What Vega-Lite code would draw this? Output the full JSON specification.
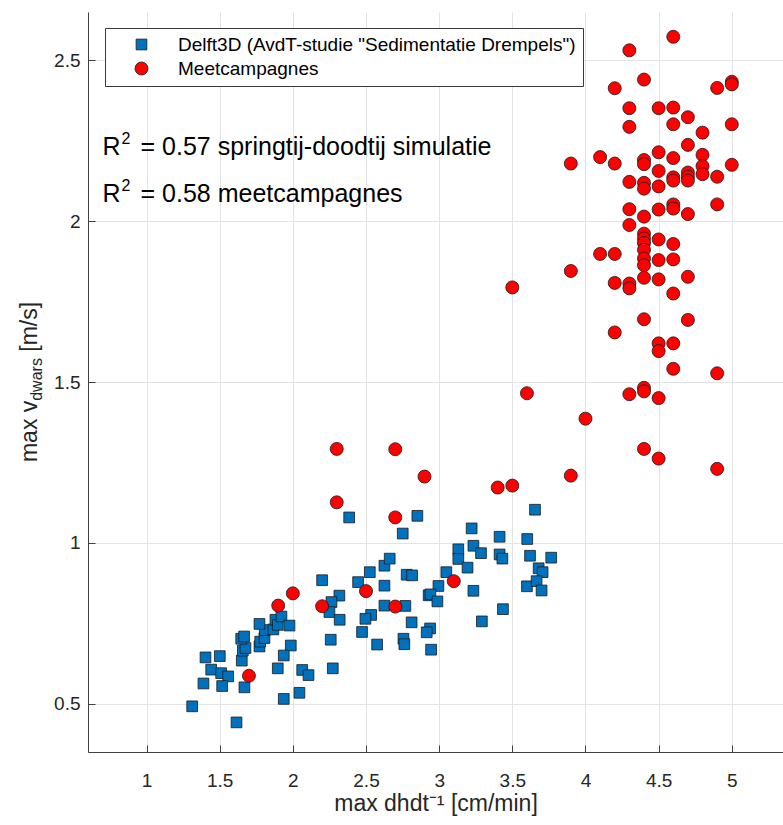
{
  "$schema": "https://vega.github.io/schema/vega-lite/v6.json",
  "autosize": {"type": "none"},
  "padding": {"left": 88, "top": 12, "right": 0, "bottom": 73},
  "width": 695,
  "height": 740,
  "background": "white",
  "config": {
    "view": {"stroke": null},
    "font": "Liberation Sans",
    "axis": {
      "grid": true,
      "gridColor": "#e3e3e3",
      "gridWidth": 1,
      "domainColor": "#404040",
      "domainWidth": 1,
      "tickColor": "#404040",
      "tickSize": -7,
      "tickWidth": 1,
      "labelFont": "Liberation Sans",
      "labelFontSize": 19,
      "labelColor": "#262626",
      "titleFont": "Liberation Sans",
      "titleFontSize": 23,
      "titleFontWeight": "normal",
      "titleColor": "#262626"
    },
    "legend": {
      "labelFont": "Liberation Sans",
      "labelFontSize": 19,
      "labelColor": "#000000",
      "labelLimit": 0
    },
    "text": {"font": "Liberation Sans", "color": "#000000"}
  },
  "datasets": {
    "punten": [
      {"dhdt": 2.385, "v": 1.079, "bron": "Delft3D (AvdT-studie \"Sedimentatie Drempels\")"},
      {"dhdt": 1.312, "v": 0.492, "bron": "Delft3D (AvdT-studie \"Sedimentatie Drempels\")"},
      {"dhdt": 1.615, "v": 0.442, "bron": "Delft3D (AvdT-studie \"Sedimentatie Drempels\")"},
      {"dhdt": 1.403, "v": 0.644, "bron": "Delft3D (AvdT-studie \"Sedimentatie Drempels\")"},
      {"dhdt": 1.501, "v": 0.648, "bron": "Delft3D (AvdT-studie \"Sedimentatie Drempels\")"},
      {"dhdt": 1.442, "v": 0.606, "bron": "Delft3D (AvdT-studie \"Sedimentatie Drempels\")"},
      {"dhdt": 1.510, "v": 0.595, "bron": "Delft3D (AvdT-studie \"Sedimentatie Drempels\")"},
      {"dhdt": 1.558, "v": 0.585, "bron": "Delft3D (AvdT-studie \"Sedimentatie Drempels\")"},
      {"dhdt": 1.389, "v": 0.563, "bron": "Delft3D (AvdT-studie \"Sedimentatie Drempels\")"},
      {"dhdt": 1.517, "v": 0.555, "bron": "Delft3D (AvdT-studie \"Sedimentatie Drempels\")"},
      {"dhdt": 1.669, "v": 0.551, "bron": "Delft3D (AvdT-studie \"Sedimentatie Drempels\")"},
      {"dhdt": 1.651, "v": 0.634, "bron": "Delft3D (AvdT-studie \"Sedimentatie Drempels\")"},
      {"dhdt": 1.658, "v": 0.665, "bron": "Delft3D (AvdT-studie \"Sedimentatie Drempels\")"},
      {"dhdt": 1.676, "v": 0.673, "bron": "Delft3D (AvdT-studie \"Sedimentatie Drempels\")"},
      {"dhdt": 1.647, "v": 0.702, "bron": "Delft3D (AvdT-studie \"Sedimentatie Drempels\")"},
      {"dhdt": 1.667, "v": 0.709, "bron": "Delft3D (AvdT-studie \"Sedimentatie Drempels\")"},
      {"dhdt": 1.772, "v": 0.678, "bron": "Delft3D (AvdT-studie \"Sedimentatie Drempels\")"},
      {"dhdt": 1.777, "v": 0.693, "bron": "Delft3D (AvdT-studie \"Sedimentatie Drempels\")"},
      {"dhdt": 1.806, "v": 0.704, "bron": "Delft3D (AvdT-studie \"Sedimentatie Drempels\")"},
      {"dhdt": 1.808, "v": 0.729, "bron": "Delft3D (AvdT-studie \"Sedimentatie Drempels\")"},
      {"dhdt": 1.772, "v": 0.748, "bron": "Delft3D (AvdT-studie \"Sedimentatie Drempels\")"},
      {"dhdt": 1.867, "v": 0.731, "bron": "Delft3D (AvdT-studie \"Sedimentatie Drempels\")"},
      {"dhdt": 1.881, "v": 0.761, "bron": "Delft3D (AvdT-studie \"Sedimentatie Drempels\")"},
      {"dhdt": 1.897, "v": 0.745, "bron": "Delft3D (AvdT-studie \"Sedimentatie Drempels\")"},
      {"dhdt": 1.922, "v": 0.771, "bron": "Delft3D (AvdT-studie \"Sedimentatie Drempels\")"},
      {"dhdt": 1.977, "v": 0.743, "bron": "Delft3D (AvdT-studie \"Sedimentatie Drempels\")"},
      {"dhdt": 1.986, "v": 0.681, "bron": "Delft3D (AvdT-studie \"Sedimentatie Drempels\")"},
      {"dhdt": 1.938, "v": 0.650, "bron": "Delft3D (AvdT-studie \"Sedimentatie Drempels\")"},
      {"dhdt": 1.897, "v": 0.610, "bron": "Delft3D (AvdT-studie \"Sedimentatie Drempels\")"},
      {"dhdt": 2.064, "v": 0.605, "bron": "Delft3D (AvdT-studie \"Sedimentatie Drempels\")"},
      {"dhdt": 2.107, "v": 0.589, "bron": "Delft3D (AvdT-studie \"Sedimentatie Drempels\")"},
      {"dhdt": 1.938, "v": 0.515, "bron": "Delft3D (AvdT-studie \"Sedimentatie Drempels\")"},
      {"dhdt": 2.045, "v": 0.534, "bron": "Delft3D (AvdT-studie \"Sedimentatie Drempels\")"},
      {"dhdt": 2.200, "v": 0.884, "bron": "Delft3D (AvdT-studie \"Sedimentatie Drempels\")"},
      {"dhdt": 2.318, "v": 0.836, "bron": "Delft3D (AvdT-studie \"Sedimentatie Drempels\")"},
      {"dhdt": 2.264, "v": 0.816, "bron": "Delft3D (AvdT-studie \"Sedimentatie Drempels\")"},
      {"dhdt": 2.250, "v": 0.785, "bron": "Delft3D (AvdT-studie \"Sedimentatie Drempels\")"},
      {"dhdt": 2.320, "v": 0.761, "bron": "Delft3D (AvdT-studie \"Sedimentatie Drempels\")"},
      {"dhdt": 2.259, "v": 0.699, "bron": "Delft3D (AvdT-studie \"Sedimentatie Drempels\")"},
      {"dhdt": 2.273, "v": 0.610, "bron": "Delft3D (AvdT-studie \"Sedimentatie Drempels\")"},
      {"dhdt": 2.446, "v": 0.878, "bron": "Delft3D (AvdT-studie \"Sedimentatie Drempels\")"},
      {"dhdt": 2.526, "v": 0.909, "bron": "Delft3D (AvdT-studie \"Sedimentatie Drempels\")"},
      {"dhdt": 2.626, "v": 0.929, "bron": "Delft3D (AvdT-studie \"Sedimentatie Drempels\")"},
      {"dhdt": 2.662, "v": 0.951, "bron": "Delft3D (AvdT-studie \"Sedimentatie Drempels\")"},
      {"dhdt": 2.626, "v": 0.867, "bron": "Delft3D (AvdT-studie \"Sedimentatie Drempels\")"},
      {"dhdt": 2.626, "v": 0.805, "bron": "Delft3D (AvdT-studie \"Sedimentatie Drempels\")"},
      {"dhdt": 2.535, "v": 0.776, "bron": "Delft3D (AvdT-studie \"Sedimentatie Drempels\")"},
      {"dhdt": 2.496, "v": 0.764, "bron": "Delft3D (AvdT-studie \"Sedimentatie Drempels\")"},
      {"dhdt": 2.473, "v": 0.723, "bron": "Delft3D (AvdT-studie \"Sedimentatie Drempels\")"},
      {"dhdt": 2.576, "v": 0.684, "bron": "Delft3D (AvdT-studie \"Sedimentatie Drempels\")"},
      {"dhdt": 2.851, "v": 1.084, "bron": "Delft3D (AvdT-studie \"Sedimentatie Drempels\")"},
      {"dhdt": 2.751, "v": 1.029, "bron": "Delft3D (AvdT-studie \"Sedimentatie Drempels\")"},
      {"dhdt": 3.655, "v": 1.103, "bron": "Delft3D (AvdT-studie \"Sedimentatie Drempels\")"},
      {"dhdt": 3.222, "v": 1.045, "bron": "Delft3D (AvdT-studie \"Sedimentatie Drempels\")"},
      {"dhdt": 3.413, "v": 1.019, "bron": "Delft3D (AvdT-studie \"Sedimentatie Drempels\")"},
      {"dhdt": 3.602, "v": 1.012, "bron": "Delft3D (AvdT-studie \"Sedimentatie Drempels\")"},
      {"dhdt": 3.131, "v": 0.980, "bron": "Delft3D (AvdT-studie \"Sedimentatie Drempels\")"},
      {"dhdt": 3.234, "v": 0.991, "bron": "Delft3D (AvdT-studie \"Sedimentatie Drempels\")"},
      {"dhdt": 3.286, "v": 0.968, "bron": "Delft3D (AvdT-studie \"Sedimentatie Drempels\")"},
      {"dhdt": 3.413, "v": 0.964, "bron": "Delft3D (AvdT-studie \"Sedimentatie Drempels\")"},
      {"dhdt": 3.432, "v": 0.951, "bron": "Delft3D (AvdT-studie \"Sedimentatie Drempels\")"},
      {"dhdt": 3.131, "v": 0.950, "bron": "Delft3D (AvdT-studie \"Sedimentatie Drempels\")"},
      {"dhdt": 3.621, "v": 0.960, "bron": "Delft3D (AvdT-studie \"Sedimentatie Drempels\")"},
      {"dhdt": 3.766, "v": 0.954, "bron": "Delft3D (AvdT-studie \"Sedimentatie Drempels\")"},
      {"dhdt": 3.194, "v": 0.923, "bron": "Delft3D (AvdT-studie \"Sedimentatie Drempels\")"},
      {"dhdt": 3.049, "v": 0.909, "bron": "Delft3D (AvdT-studie \"Sedimentatie Drempels\")"},
      {"dhdt": 3.680, "v": 0.921, "bron": "Delft3D (AvdT-studie \"Sedimentatie Drempels\")"},
      {"dhdt": 3.707, "v": 0.909, "bron": "Delft3D (AvdT-studie \"Sedimentatie Drempels\")"},
      {"dhdt": 2.778, "v": 0.901, "bron": "Delft3D (AvdT-studie \"Sedimentatie Drempels\")"},
      {"dhdt": 2.815, "v": 0.899, "bron": "Delft3D (AvdT-studie \"Sedimentatie Drempels\")"},
      {"dhdt": 2.995, "v": 0.866, "bron": "Delft3D (AvdT-studie \"Sedimentatie Drempels\")"},
      {"dhdt": 3.600, "v": 0.865, "bron": "Delft3D (AvdT-studie \"Sedimentatie Drempels\")"},
      {"dhdt": 3.666, "v": 0.881, "bron": "Delft3D (AvdT-studie \"Sedimentatie Drempels\")"},
      {"dhdt": 3.700, "v": 0.852, "bron": "Delft3D (AvdT-studie \"Sedimentatie Drempels\")"},
      {"dhdt": 3.234, "v": 0.851, "bron": "Delft3D (AvdT-studie \"Sedimentatie Drempels\")"},
      {"dhdt": 2.928, "v": 0.837, "bron": "Delft3D (AvdT-studie \"Sedimentatie Drempels\")"},
      {"dhdt": 2.940, "v": 0.840, "bron": "Delft3D (AvdT-studie \"Sedimentatie Drempels\")"},
      {"dhdt": 2.988, "v": 0.818, "bron": "Delft3D (AvdT-studie \"Sedimentatie Drempels\")"},
      {"dhdt": 2.769, "v": 0.804, "bron": "Delft3D (AvdT-studie \"Sedimentatie Drempels\")"},
      {"dhdt": 3.436, "v": 0.794, "bron": "Delft3D (AvdT-studie \"Sedimentatie Drempels\")"},
      {"dhdt": 2.812, "v": 0.753, "bron": "Delft3D (AvdT-studie \"Sedimentatie Drempels\")"},
      {"dhdt": 3.292, "v": 0.756, "bron": "Delft3D (AvdT-studie \"Sedimentatie Drempels\")"},
      {"dhdt": 2.938, "v": 0.734, "bron": "Delft3D (AvdT-studie \"Sedimentatie Drempels\")"},
      {"dhdt": 2.915, "v": 0.722, "bron": "Delft3D (AvdT-studie \"Sedimentatie Drempels\")"},
      {"dhdt": 2.756, "v": 0.702, "bron": "Delft3D (AvdT-studie \"Sedimentatie Drempels\")"},
      {"dhdt": 2.762, "v": 0.685, "bron": "Delft3D (AvdT-studie \"Sedimentatie Drempels\")"},
      {"dhdt": 2.945, "v": 0.668, "bron": "Delft3D (AvdT-studie \"Sedimentatie Drempels\")"},
      {"dhdt": 2.3, "v": 1.292, "bron": "Meetcampagnes"},
      {"dhdt": 2.3, "v": 1.126, "bron": "Meetcampagnes"},
      {"dhdt": 2.0, "v": 0.843, "bron": "Meetcampagnes"},
      {"dhdt": 1.9, "v": 0.805, "bron": "Meetcampagnes"},
      {"dhdt": 2.2, "v": 0.803, "bron": "Meetcampagnes"},
      {"dhdt": 2.5, "v": 0.850, "bron": "Meetcampagnes"},
      {"dhdt": 1.7, "v": 0.587, "bron": "Meetcampagnes"},
      {"dhdt": 2.7, "v": 1.291, "bron": "Meetcampagnes"},
      {"dhdt": 2.9, "v": 1.206, "bron": "Meetcampagnes"},
      {"dhdt": 2.7, "v": 1.079, "bron": "Meetcampagnes"},
      {"dhdt": 3.4, "v": 1.172, "bron": "Meetcampagnes"},
      {"dhdt": 3.5, "v": 1.178, "bron": "Meetcampagnes"},
      {"dhdt": 3.9, "v": 1.209, "bron": "Meetcampagnes"},
      {"dhdt": 3.1, "v": 0.881, "bron": "Meetcampagnes"},
      {"dhdt": 2.7, "v": 0.802, "bron": "Meetcampagnes"},
      {"dhdt": 3.5, "v": 1.794, "bron": "Meetcampagnes"},
      {"dhdt": 3.6, "v": 1.465, "bron": "Meetcampagnes"},
      {"dhdt": 4.0, "v": 1.386, "bron": "Meetcampagnes"},
      {"dhdt": 4.6, "v": 2.573, "bron": "Meetcampagnes"},
      {"dhdt": 4.3, "v": 2.531, "bron": "Meetcampagnes"},
      {"dhdt": 4.4, "v": 2.440, "bron": "Meetcampagnes"},
      {"dhdt": 4.2, "v": 2.413, "bron": "Meetcampagnes"},
      {"dhdt": 4.9, "v": 2.414, "bron": "Meetcampagnes"},
      {"dhdt": 5.0, "v": 2.433, "bron": "Meetcampagnes"},
      {"dhdt": 5.0, "v": 2.425, "bron": "Meetcampagnes"},
      {"dhdt": 4.3, "v": 2.351, "bron": "Meetcampagnes"},
      {"dhdt": 4.5, "v": 2.351, "bron": "Meetcampagnes"},
      {"dhdt": 4.6, "v": 2.353, "bron": "Meetcampagnes"},
      {"dhdt": 4.7, "v": 2.323, "bron": "Meetcampagnes"},
      {"dhdt": 4.3, "v": 2.293, "bron": "Meetcampagnes"},
      {"dhdt": 4.6, "v": 2.301, "bron": "Meetcampagnes"},
      {"dhdt": 5.0, "v": 2.301, "bron": "Meetcampagnes"},
      {"dhdt": 4.8, "v": 2.275, "bron": "Meetcampagnes"},
      {"dhdt": 4.7, "v": 2.237, "bron": "Meetcampagnes"},
      {"dhdt": 4.5, "v": 2.214, "bron": "Meetcampagnes"},
      {"dhdt": 4.6, "v": 2.196, "bron": "Meetcampagnes"},
      {"dhdt": 4.8, "v": 2.206, "bron": "Meetcampagnes"},
      {"dhdt": 4.8, "v": 2.171, "bron": "Meetcampagnes"},
      {"dhdt": 3.9, "v": 2.179, "bron": "Meetcampagnes"},
      {"dhdt": 4.1, "v": 2.199, "bron": "Meetcampagnes"},
      {"dhdt": 4.2, "v": 2.179, "bron": "Meetcampagnes"},
      {"dhdt": 4.4, "v": 2.190, "bron": "Meetcampagnes"},
      {"dhdt": 4.4, "v": 2.177, "bron": "Meetcampagnes"},
      {"dhdt": 4.5, "v": 2.156, "bron": "Meetcampagnes"},
      {"dhdt": 5.0, "v": 2.175, "bron": "Meetcampagnes"},
      {"dhdt": 4.7, "v": 2.151, "bron": "Meetcampagnes"},
      {"dhdt": 4.7, "v": 2.138, "bron": "Meetcampagnes"},
      {"dhdt": 4.7, "v": 2.126, "bron": "Meetcampagnes"},
      {"dhdt": 4.6, "v": 2.136, "bron": "Meetcampagnes"},
      {"dhdt": 4.6, "v": 2.126, "bron": "Meetcampagnes"},
      {"dhdt": 4.8, "v": 2.146, "bron": "Meetcampagnes"},
      {"dhdt": 4.9, "v": 2.138, "bron": "Meetcampagnes"},
      {"dhdt": 4.3, "v": 2.122, "bron": "Meetcampagnes"},
      {"dhdt": 4.4, "v": 2.119, "bron": "Meetcampagnes"},
      {"dhdt": 4.4, "v": 2.101, "bron": "Meetcampagnes"},
      {"dhdt": 4.5, "v": 2.108, "bron": "Meetcampagnes"},
      {"dhdt": 4.3, "v": 2.037, "bron": "Meetcampagnes"},
      {"dhdt": 4.4, "v": 2.014, "bron": "Meetcampagnes"},
      {"dhdt": 4.5, "v": 2.036, "bron": "Meetcampagnes"},
      {"dhdt": 4.6, "v": 2.052, "bron": "Meetcampagnes"},
      {"dhdt": 4.6, "v": 2.039, "bron": "Meetcampagnes"},
      {"dhdt": 4.7, "v": 2.022, "bron": "Meetcampagnes"},
      {"dhdt": 4.9, "v": 2.052, "bron": "Meetcampagnes"},
      {"dhdt": 4.3, "v": 1.988, "bron": "Meetcampagnes"},
      {"dhdt": 4.4, "v": 1.961, "bron": "Meetcampagnes"},
      {"dhdt": 4.4, "v": 1.946, "bron": "Meetcampagnes"},
      {"dhdt": 4.4, "v": 1.932, "bron": "Meetcampagnes"},
      {"dhdt": 4.4, "v": 1.911, "bron": "Meetcampagnes"},
      {"dhdt": 4.5, "v": 1.943, "bron": "Meetcampagnes"},
      {"dhdt": 4.6, "v": 1.929, "bron": "Meetcampagnes"},
      {"dhdt": 4.1, "v": 1.898, "bron": "Meetcampagnes"},
      {"dhdt": 4.2, "v": 1.898, "bron": "Meetcampagnes"},
      {"dhdt": 4.4, "v": 1.884, "bron": "Meetcampagnes"},
      {"dhdt": 4.4, "v": 1.863, "bron": "Meetcampagnes"},
      {"dhdt": 4.5, "v": 1.879, "bron": "Meetcampagnes"},
      {"dhdt": 4.6, "v": 1.881, "bron": "Meetcampagnes"},
      {"dhdt": 3.9, "v": 1.845, "bron": "Meetcampagnes"},
      {"dhdt": 4.2, "v": 1.808, "bron": "Meetcampagnes"},
      {"dhdt": 4.3, "v": 1.806, "bron": "Meetcampagnes"},
      {"dhdt": 4.3, "v": 1.791, "bron": "Meetcampagnes"},
      {"dhdt": 4.4, "v": 1.824, "bron": "Meetcampagnes"},
      {"dhdt": 4.5, "v": 1.819, "bron": "Meetcampagnes"},
      {"dhdt": 4.7, "v": 1.827, "bron": "Meetcampagnes"},
      {"dhdt": 4.6, "v": 1.775, "bron": "Meetcampagnes"},
      {"dhdt": 4.4, "v": 1.695, "bron": "Meetcampagnes"},
      {"dhdt": 4.7, "v": 1.693, "bron": "Meetcampagnes"},
      {"dhdt": 4.2, "v": 1.654, "bron": "Meetcampagnes"},
      {"dhdt": 4.5, "v": 1.620, "bron": "Meetcampagnes"},
      {"dhdt": 4.5, "v": 1.596, "bron": "Meetcampagnes"},
      {"dhdt": 4.6, "v": 1.620, "bron": "Meetcampagnes"},
      {"dhdt": 4.6, "v": 1.541, "bron": "Meetcampagnes"},
      {"dhdt": 4.9, "v": 1.527, "bron": "Meetcampagnes"},
      {"dhdt": 4.4, "v": 1.482, "bron": "Meetcampagnes"},
      {"dhdt": 4.4, "v": 1.471, "bron": "Meetcampagnes"},
      {"dhdt": 4.3, "v": 1.462, "bron": "Meetcampagnes"},
      {"dhdt": 4.5, "v": 1.450, "bron": "Meetcampagnes"},
      {"dhdt": 4.4, "v": 1.292, "bron": "Meetcampagnes"},
      {"dhdt": 4.5, "v": 1.262, "bron": "Meetcampagnes"},
      {"dhdt": 4.9, "v": 1.230, "bron": "Meetcampagnes"}
    ],
    "enkel": [{}]
  },
  "layer": [
    {
      "data": {"name": "punten"},
      "mark": {"type": "point", "filled": true, "opacity": 1, "stroke": "#1a1a1a", "strokeWidth": 0.8},
      "encoding": {
        "x": {
          "field": "dhdt", "type": "quantitative",
          "scale": {"domain": [0.6, 5.35], "nice": false, "zero": false},
          "axis": {"values": [1, 1.5, 2, 2.5, 3, 3.5, 4, 4.5, 5], "format": "~g", "labelPadding": 26, "title": "max dhdt⁻¹ [cm/min]", "titlePadding": 2}
        },
        "y": {
          "field": "v", "type": "quantitative",
          "scale": {"domain": [0.35, 2.65], "nice": false, "zero": false},
          "axis": {"values": [0.5, 1, 1.5, 2, 2.5], "format": "~g", "labelPadding": 15, "title": null}
        },
        "color": {
          "field": "bron", "type": "nominal",
          "scale": {"domain": ["Delft3D (AvdT-studie \"Sedimentatie Drempels\")", "Meetcampagnes"], "range": ["#0072BD", "#FF0000"]},
          "legend": {
            "orient": "none", "legendX": 17, "legendY": 16, "title": null,
            "strokeColor": "#3a3a3a", "fillColor": "white", "padding": 7,
            "symbolOffset": 20, "labelOffset": 27, "rowPadding": 4,
            "symbolStrokeColor": "#1a1a1a", "symbolStrokeWidth": 0.8
          }
        },
        "shape": {
          "field": "bron", "type": "nominal",
          "scale": {"domain": ["Delft3D (AvdT-studie \"Sedimentatie Drempels\")", "Meetcampagnes"], "range": ["square", "circle"]}
        },
        "size": {
          "field": "bron", "type": "nominal",
          "scale": {"domain": ["Delft3D (AvdT-studie \"Sedimentatie Drempels\")", "Meetcampagnes"], "range": [115, 170]}
        }
      }
    },
    {
      "data": {"name": "enkel"},
      "mark": {"type": "text", "align": "left", "baseline": "alphabetic", "fontSize": 25},
      "encoding": {"text": {"value": "R"}, "x": {"datum": 0.6995}, "y": {"datum": 2.205}}
    },
    {
      "data": {"name": "enkel"},
      "mark": {"type": "text", "align": "left", "baseline": "alphabetic", "fontSize": 16, "dx": 19, "dy": -11},
      "encoding": {"text": {"value": "2"}, "x": {"datum": 0.6995}, "y": {"datum": 2.205}}
    },
    {
      "data": {"name": "enkel"},
      "mark": {"type": "text", "align": "left", "baseline": "alphabetic", "fontSize": 25, "dx": 38},
      "encoding": {"text": {"value": "= 0.57 springtij-doodtij simulatie"}, "x": {"datum": 0.6995}, "y": {"datum": 2.205}}
    },
    {
      "data": {"name": "enkel"},
      "mark": {"type": "text", "align": "left", "baseline": "alphabetic", "fontSize": 25},
      "encoding": {"text": {"value": "R"}, "x": {"datum": 0.6995}, "y": {"datum": 2.059}}
    },
    {
      "data": {"name": "enkel"},
      "mark": {"type": "text", "align": "left", "baseline": "alphabetic", "fontSize": 16, "dx": 19, "dy": -11},
      "encoding": {"text": {"value": "2"}, "x": {"datum": 0.6995}, "y": {"datum": 2.059}}
    },
    {
      "data": {"name": "enkel"},
      "mark": {"type": "text", "align": "left", "baseline": "alphabetic", "fontSize": 25, "dx": 38},
      "encoding": {"text": {"value": "= 0.58 meetcampagnes"}, "x": {"datum": 0.6995}, "y": {"datum": 2.059}}
    },
    {
      "data": {"name": "enkel"},
      "mark": {"type": "text", "align": "left", "baseline": "alphabetic", "angle": 270, "fontSize": 23, "color": "#262626"},
      "encoding": {"text": {"value": "max v"}, "x": {"datum": 0.2516}, "y": {"datum": 1.2512}}
    },
    {
      "data": {"name": "enkel"},
      "mark": {"type": "text", "align": "left", "baseline": "alphabetic", "angle": 270, "fontSize": 16, "color": "#262626"},
      "encoding": {"text": {"value": "dwars"}, "x": {"datum": 0.2858}, "y": {"datum": 1.4416}}
    },
    {
      "data": {"name": "enkel"},
      "mark": {"type": "text", "align": "left", "baseline": "alphabetic", "angle": 270, "fontSize": 23, "color": "#262626"},
      "encoding": {"text": {"value": "[m/s]"}, "x": {"datum": 0.2516}, "y": {"datum": 1.5941}}
    }
  ]
}
